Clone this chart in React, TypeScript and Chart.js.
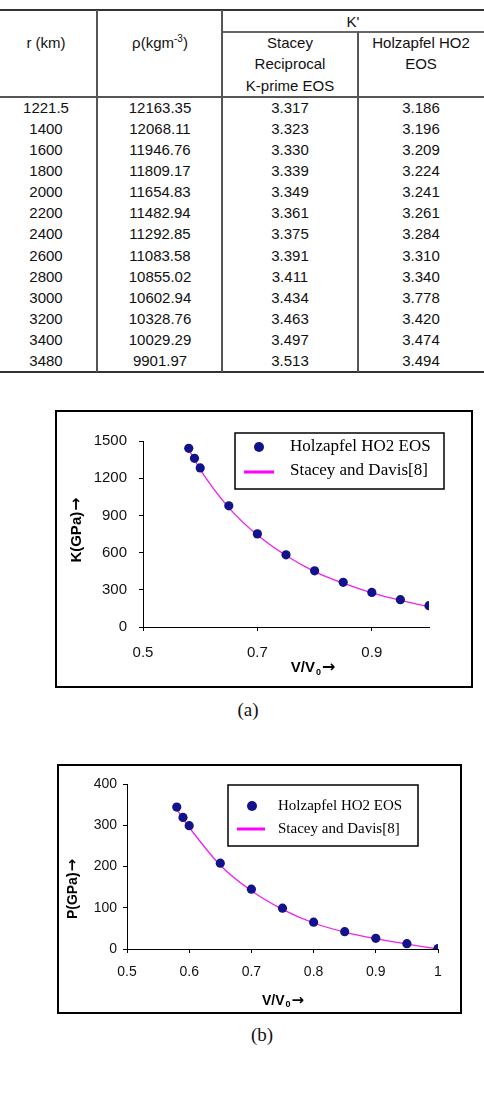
import React, { useEffect, useRef } from "react";
import { Chart, registerables } from "chart.js";

Chart.register(...registerables);

// ---- Table: K' along the outer core ----
const radiusKm = [1221.5, 1400, 1600, 1800, 2000, 2200, 2400, 2600, 2800, 3000, 3200, 3400, 3480];
const densityKgM3 = [
  12163.35, 12068.11, 11946.76, 11809.17, 11654.83, 11482.94, 11292.85, 11083.58, 10855.02, 10602.94,
  10328.76, 10029.29, 9901.97,
];
const kPrimeStacey = [3.317, 3.323, 3.33, 3.339, 3.349, 3.361, 3.375, 3.391, 3.411, 3.434, 3.463, 3.497, 3.513];
const kPrimeHolzapfel = [3.186, 3.196, 3.209, 3.224, 3.241, 3.261, 3.284, 3.31, 3.34, 3.778, 3.42, 3.474, 3.494];

// ---- Curves: K and P versus V/V0 ----
const volumeRatio = [0.58, 0.59, 0.6, 0.65, 0.7, 0.75, 0.8, 0.85, 0.9, 0.95, 1.0];
const bulkHolzapfel = [1441, 1360, 1283, 977, 751, 582, 453, 360, 279, 220, 172];
const bulkStaceyDavis = [1432, 1350, 1270, 963, 741, 576, 447, 353, 275, 215, 165];
const pressureHolzapfel = [344, 319, 299, 208, 145, 99, 65, 42, 26, 13, 1];
const pressureStaceyDavis = [339, 316, 295, 203, 141, 96, 63, 41, 25, 12, 0];

const bulkTicksX = [0.5, 0.7, 0.9];
const bulkTicksY = [0, 300, 600, 900, 1200, 1500];
const pressureTicksX = [0.5, 0.6, 0.7, 0.8, 0.9, 1];
const pressureTicksY = [0, 100, 200, 300, 400];

const seriesLabels = ["Holzapfel HO2 EOS", "Stacey and Davis[8]"];

const DOT_COLOR = "#12128a";
const LINE_COLOR = "#ee22ee";
const LEGEND_LINE_COLOR = "#ff00ff";
const SANS = '"Liberation Sans", Arial, sans-serif';
const ARROW_FONT = '"DejaVu Sans", sans-serif';
const SERIF = '"Liberation Serif", "Times New Roman", serif';
const ARROW = "\u2192";

type PanelSpec = {
  left: number;
  top: number;
  width: number;
  height: number;
  plot: { left: number; top: number; right: number; bottom: number };
  xMin: number;
  xMax: number;
  yMax: number;
  xTicks: number[];
  yTicks: number[];
  points: number[];
  curve: number[];
  tickSize: number;
  xTickPad: number;
  yTickPad: number;
  titleSize: number;
  yTitle: string;
  yTitlePos: [number, number];
  xTitlePos: [number, number];
  legend: {
    box: [number, number, number, number];
    dotX: number;
    lineX: [number, number];
    textX: number;
    rowY: [number, number];
    lineY: number;
    fontSize: number;
  };
};

type Run = { text: string; font: string; dy: number };

// Draws a row of text runs centred on (cx, cy)
function drawRuns(ctx: CanvasRenderingContext2D, runs: Run[], cx: number, cy: number) {
  const widths = runs.map((r) => {
    ctx.font = r.font;
    return ctx.measureText(r.text).width;
  });
  const total = widths.reduce((a, b) => a + b, 0) + runs.length - 1;
  let x = cx - total / 2;
  ctx.textAlign = "left";
  ctx.textBaseline = "middle";
  runs.forEach((r, i) => {
    ctx.font = r.font;
    ctx.fillText(r.text, x, cy + r.dy);
    x += widths[i] + 1;
  });
}

function makeDecor(spec: PanelSpec) {
  return {
    id: "panelDecor",
    afterDraw(chart: Chart) {
      const ctx = chart.ctx;
      const s = spec.titleSize;
      const bold = `bold ${s}px ${SANS}`;
      const arrowFont = `bold ${Math.round(s * 1.05)}px ${ARROW_FONT}`;
      ctx.save();
      // outer frame
      ctx.strokeStyle = "#000";
      ctx.lineWidth = 2;
      ctx.strokeRect(1, 1, chart.width - 2, chart.height - 2);

      // axis titles
      ctx.fillStyle = "#000";
      drawRuns(
        ctx,
        [
          { text: "V/V", font: bold, dy: 0 },
          { text: "0", font: `bold ${Math.round(s * 0.62)}px ${SANS}`, dy: s * 0.28 },
          { text: ARROW, font: arrowFont, dy: 0 },
        ],
        spec.xTitlePos[0],
        spec.xTitlePos[1]
      );
      ctx.save();
      ctx.translate(spec.yTitlePos[0], spec.yTitlePos[1]);
      ctx.rotate(-Math.PI / 2);
      drawRuns(
        ctx,
        [
          { text: spec.yTitle, font: bold, dy: 0 },
          { text: ARROW, font: arrowFont, dy: 0 },
        ],
        0,
        0
      );
      ctx.restore();

      // legend
      const lg = spec.legend;
      const [bx0, by0, bx1, by1] = lg.box;
      ctx.fillStyle = "#fff";
      ctx.fillRect(bx0, by0, bx1 - bx0, by1 - by0);
      ctx.strokeStyle = "#000";
      ctx.lineWidth = 1.5;
      ctx.strokeRect(bx0, by0, bx1 - bx0, by1 - by0);

      ctx.fillStyle = DOT_COLOR;
      ctx.beginPath();
      ctx.arc(lg.dotX, lg.rowY[0], 5, 0, Math.PI * 2);
      ctx.fill();

      ctx.strokeStyle = LEGEND_LINE_COLOR;
      ctx.lineWidth = 3;
      ctx.beginPath();
      ctx.moveTo(lg.lineX[0], lg.lineY);
      ctx.lineTo(lg.lineX[1], lg.lineY);
      ctx.stroke();

      ctx.fillStyle = "#000";
      ctx.font = `${lg.fontSize}px ${SERIF}`;
      ctx.textAlign = "left";
      ctx.textBaseline = "middle";
      ctx.fillText(seriesLabels[0], lg.textX, lg.rowY[0]);
      ctx.fillText(seriesLabels[1], lg.textX, lg.rowY[1]);
      ctx.restore();
    },
  };
}

function fmtTick(v: number) {
  return String(Number(v.toFixed(2)));
}

function Panel({ spec }: { spec: PanelSpec }) {
  const ref = useRef<HTMLCanvasElement | null>(null);

  useEffect(() => {
    const canvas = ref.current;
    if (!canvas) return;
    const xy = (ys: number[]) => volumeRatio.map((x, i) => ({ x, y: ys[i] }));
    const axisWidth = spec.plot.left;
    const axisHeight = spec.height - spec.plot.bottom;
    const tickFont = { family: SANS, size: spec.tickSize };

    const chart = new Chart(canvas, {
      type: "scatter",
      data: {
        datasets: [
          {
            label: seriesLabels[0],
            data: xy(spec.points),
            pointRadius: 4.6,
            pointHoverRadius: 4.6,
            backgroundColor: DOT_COLOR,
            borderColor: DOT_COLOR,
            borderWidth: 0,
            order: 0,
          },
          {
            label: seriesLabels[1],
            type: "line",
            data: xy(spec.curve),
            showLine: true,
            borderColor: LINE_COLOR,
            borderWidth: 1.3,
            pointRadius: 0,
            cubicInterpolationMode: "monotone",
            fill: false,
            order: 1,
          },
        ],
      },
      options: {
        responsive: false,
        animation: false,
        devicePixelRatio: 1,
        layout: {
          padding: {
            left: 0,
            top: spec.plot.top,
            right: spec.width - spec.plot.right,
            bottom: 0,
          },
        },
        plugins: {
          legend: { display: false },
          tooltip: { enabled: false },
          title: { display: false },
        },
        scales: {
          x: {
            type: "linear",
            min: spec.xMin,
            max: spec.xMax,
            afterBuildTicks: (axis: any) => {
              axis.ticks = spec.xTicks.map((value) => ({ value }));
            },
            afterFit: (axis: any) => {
              axis.height = axisHeight;
            },
            grid: { display: true, drawOnChartArea: false, drawTicks: true, tickLength: 4, color: "#000" },
            border: { display: true, color: "#000", width: 1 },
            ticks: {
              font: tickFont,
              color: "#111",
              padding: spec.xTickPad,
              maxRotation: 0,
              autoSkip: false,
              callback: (v: any) => fmtTick(Number(v)),
            },
          },
          y: {
            type: "linear",
            min: 0,
            max: spec.yMax,
            afterBuildTicks: (axis: any) => {
              axis.ticks = spec.yTicks.map((value) => ({ value }));
            },
            afterFit: (axis: any) => {
              axis.width = axisWidth;
            },
            grid: { display: true, drawOnChartArea: false, drawTicks: true, tickLength: 4, color: "#000" },
            border: { display: true, color: "#000", width: 1 },
            ticks: {
              font: tickFont,
              color: "#111",
              padding: spec.yTickPad,
              autoSkip: false,
              callback: (v: any) => String(v),
            },
          },
        },
      },
      plugins: [makeDecor(spec)],
    } as any);

    return () => chart.destroy();
  }, [spec]);

  return (
    <canvas
      ref={ref}
      width={spec.width}
      height={spec.height}
      style={{
        position: "absolute",
        left: spec.left,
        top: spec.top,
        width: spec.width,
        height: spec.height,
        background: "#fff",
      }}
    />
  );
}

const bulkPanel: PanelSpec = {
  left: 55,
  top: 410,
  width: 418,
  height: 278,
  plot: { left: 88, top: 31, right: 374, bottom: 217 },
  xMin: 0.5,
  xMax: 1.0,
  yMax: 1500,
  xTicks: bulkTicksX,
  yTicks: bulkTicksY,
  points: bulkHolzapfel,
  curve: bulkStaceyDavis,
  tickSize: 15,
  xTickPad: 13,
  yTickPad: 12,
  titleSize: 15,
  yTitle: "K(GPa)",
  yTitlePos: [22, 120],
  xTitlePos: [258, 258],
  legend: {
    box: [180, 23, 389, 79],
    dotX: 204,
    lineX: [189, 219],
    textX: 235,
    rowY: [37, 61],
    lineY: 62,
    fontSize: 17,
  },
};

const pressurePanel: PanelSpec = {
  left: 57,
  top: 764,
  width: 405,
  height: 250,
  plot: { left: 70, top: 20, right: 381, bottom: 185 },
  xMin: 0.5,
  xMax: 1.0,
  yMax: 400,
  xTicks: pressureTicksX,
  yTicks: pressureTicksY,
  points: pressureHolzapfel,
  curve: pressureStaceyDavis,
  tickSize: 14,
  xTickPad: 11,
  yTickPad: 6,
  titleSize: 14,
  yTitle: "P(GPa)",
  yTitlePos: [16, 125],
  xTitlePos: [226, 237],
  legend: {
    box: [171, 21, 361, 82],
    dotX: 195,
    lineX: [180, 208],
    textX: 221,
    rowY: [42, 65],
    lineY: 65,
    fontSize: 15,
  },
};

// ---- Table layout ----
const colCenters = [46, 160, 290, 421];
const rowTop = 108;
const rowStep = 21.08;

function Cell({ cx, cy, children, w = 130 }: { cx: number; cy: number; children: React.ReactNode; w?: number }) {
  return (
    <div
      style={{
        position: "absolute",
        left: cx - w / 2,
        top: cy - 10,
        width: w,
        height: 20,
        lineHeight: "20px",
        textAlign: "center",
        whiteSpace: "nowrap",
      }}
    >
      {children}
    </div>
  );
}

function Rule({ x, y, w, h, c = "#555" }: { x: number; y: number; w: number; h: number; c?: string }) {
  return <div style={{ position: "absolute", left: x, top: y, width: w, height: h, background: c }} />;
}

function KPrimeTable() {
  return (
    <div style={{ position: "absolute", left: 0, top: 0, width: 484, height: 380, fontFamily: SANS, fontSize: 15, color: "#111" }}>
      <Rule x={0} y={9} w={484} h={2} c="#333" />
      <Rule x={222} y={31} w={262} h={2} c="#666" />
      <Rule x={0} y={96} w={484} h={2} c="#555" />
      <Rule x={0} y={371} w={484} h={2} c="#333" />
      <Rule x={96} y={10} w={2} h={362} />
      <Rule x={221} y={10} w={2} h={362} />
      <Rule x={357} y={32} w={2} h={340} />

      <Cell cx={353} cy={22}>K'</Cell>
      <Cell cx={colCenters[0]} cy={43}>r (km)</Cell>
      <Cell cx={colCenters[1]} cy={43}>
        ρ(kgm<span style={{ fontSize: 10, position: "relative", top: -6 }}>-3</span>)
      </Cell>
      <Cell cx={colCenters[2]} cy={43}>Stacey</Cell>
      <Cell cx={colCenters[2]} cy={64}>Reciprocal</Cell>
      <Cell cx={colCenters[2]} cy={86}>K-prime EOS</Cell>
      <Cell cx={colCenters[3]} cy={43}>Holzapfel HO2</Cell>
      <Cell cx={colCenters[3]} cy={64}>EOS</Cell>

      {radiusKm.map((r, i) => {
        const cy = rowTop + i * rowStep;
        return (
          <React.Fragment key={r}>
            <Cell cx={colCenters[0]} cy={cy}>{String(r)}</Cell>
            <Cell cx={colCenters[1]} cy={cy}>{densityKgM3[i].toFixed(2)}</Cell>
            <Cell cx={colCenters[2]} cy={cy}>{kPrimeStacey[i].toFixed(3)}</Cell>
            <Cell cx={colCenters[3]} cy={cy}>{kPrimeHolzapfel[i].toFixed(3)}</Cell>
          </React.Fragment>
        );
      })}
    </div>
  );
}

function Caption({ cx, cy, text }: { cx: number; cy: number; text: string }) {
  return (
    <div
      style={{
        position: "absolute",
        left: cx - 30,
        top: cy - 12,
        width: 60,
        height: 24,
        lineHeight: "24px",
        textAlign: "center",
        fontFamily: SERIF,
        fontSize: 19,
        color: "#111",
      }}
    >
      {text}
    </div>
  );
}

export default function App() {
  return (
    <div style={{ position: "absolute", left: 0, top: 0, width: 484, height: 1102, background: "#fff", overflow: "hidden" }}>
      <KPrimeTable />
      <Panel spec={bulkPanel} />
      <Caption cx={248} cy={710} text="(a)" />
      <Panel spec={pressurePanel} />
      <Caption cx={262} cy={1035} text="(b)" />
    </div>
  );
}
